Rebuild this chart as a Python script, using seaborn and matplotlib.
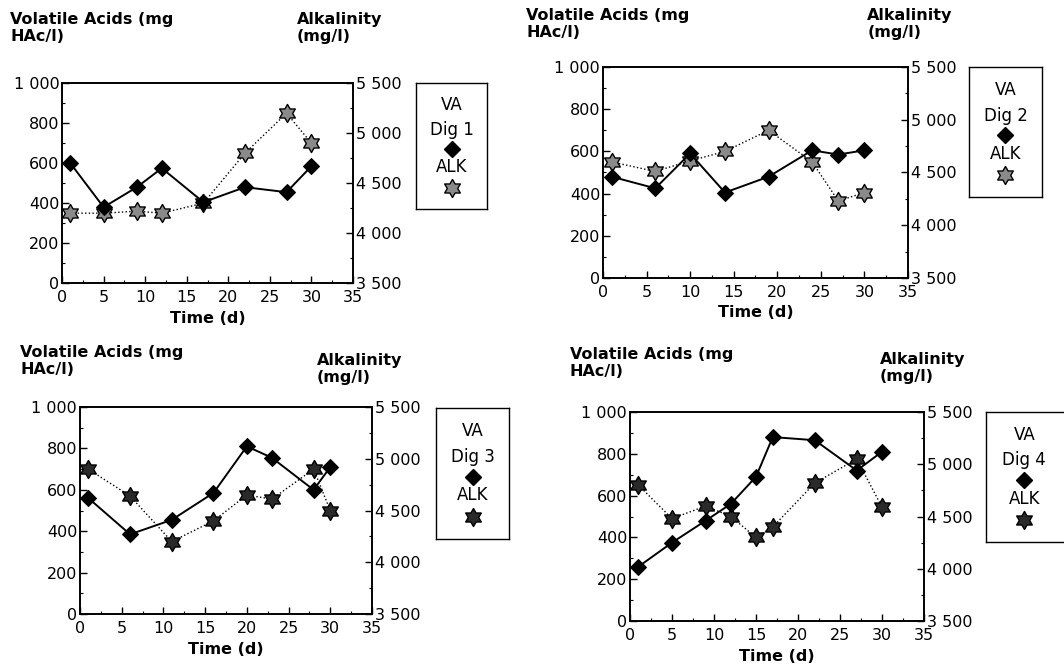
import numpy as np
import matplotlib
matplotlib.use("Agg")
import matplotlib.pyplot as plt
from matplotlib.path import Path
from matplotlib.ticker import FuncFormatter, MultipleLocator
import seaborn as sns

# Dig 1
days_1 = [1, 5, 9, 12, 17, 22, 27, 30]
va_1 = [600, 380, 480, 575, 405, 480, 455, 585]
alk_1 = [4200, 4200, 4220, 4200, 4300, 4800, 5200, 4900]

# Dig 2
days_2 = [1, 6, 10, 14, 19, 24, 27, 30]
va_2 = [480, 425, 590, 405, 480, 605, 585, 605]
alk_2 = [4600, 4510, 4610, 4700, 4900, 4600, 4230, 4310]

# Dig 3
days_3 = [1, 6, 11, 16, 20, 23, 28, 30]
va_3 = [560, 385, 455, 585, 810, 755, 600, 710]
alk_3 = [4900, 4640, 4200, 4400, 4650, 4610, 4900, 4500]

# Dig 4
days_4 = [1, 5, 9, 12, 15, 17, 22, 27, 30]
va_4 = [260, 375, 480, 560, 690, 880, 865, 720, 810]
alk_4 = [4800, 4480, 4600, 4500, 4300, 4400, 4820, 5050, 4590]

digesters = ["Dig 1", "Dig 2", "Dig 3", "Dig 4"]

sns.set_style("ticks")
plt.rcParams['font.family'] = ['DejaVu Sans']
plt.rcParams['text.color'] = 'black'
plt.rcParams['axes.labelcolor'] = 'black'
plt.rcParams['xtick.color'] = 'black'
plt.rcParams['ytick.color'] = 'black'

# six pointed star marker
ang = np.pi / 2 + np.arange(12) * np.pi / 6
rad = np.where(np.arange(12) % 2 == 0, 1.0, 0.577)
star_verts = np.column_stack([rad * np.cos(ang), rad * np.sin(ang)])
star = Path(np.vstack([star_verts, star_verts[:1]]), closed=True)

thousands = FuncFormatter(lambda v, p: f"{int(v):,}".replace(",", " "))

fig = plt.figure(figsize=(10.64, 6.71), dpi=100)

axes_pos = [[0.0583, 0.578, 0.2735, 0.298],
            [0.5667, 0.5857, 0.2867, 0.3145],
            [0.0752, 0.0849, 0.2744, 0.3085],
            [0.5921, 0.0745, 0.2763, 0.3115]]
legend_pos = [[0.391, 0.6885, 0.0667, 0.1878],
              [0.9107, 0.7064, 0.0686, 0.1937],
              [0.4098, 0.1967, 0.0686, 0.1952],
              [0.9267, 0.1923, 0.08, 0.1937]]
va_lab = [(0.0094, 0.982), (0.4944, 0.988), (0.0188, 0.486), (0.5357, 0.483)]
alk_lab = [(0.279, 0.982), (0.815, 0.988), (0.298, 0.474), (0.827, 0.475)]
star_fc = ['#8a8a8a', '#8a8a8a', '#2a2a2a', '#2a2a2a']

data = [(days_1, va_1, alk_1), (days_2, va_2, alk_2),
        (days_3, va_3, alk_3), (days_4, va_4, alk_4)]

for i, (days, va, alk) in enumerate(data):
    ax = fig.add_axes(axes_pos[i])
    ax2 = ax.twinx()
    sns.lineplot(x=days, y=alk, ax=ax2, color='black', lw=1.0, linestyle=':',
                 marker=star, markersize=13, markerfacecolor=star_fc[i],
                 markeredgecolor='black', markeredgewidth=1.0)
    sns.lineplot(x=days, y=va, ax=ax, color='black', lw=1.4,
                 marker='D', markersize=8, markerfacecolor='black',
                 markeredgecolor='black')
    ax.set_zorder(ax2.get_zorder() + 1)
    ax.patch.set_visible(False)

    ax.set_xlim(0, 35)
    ax.set_ylim(0, 1000)
    ax2.set_ylim(3500, 5500)
    ax.xaxis.set_major_locator(MultipleLocator(5))
    ax.xaxis.set_minor_locator(MultipleLocator(2.5))
    ax.yaxis.set_major_locator(MultipleLocator(200))
    ax.yaxis.set_minor_locator(MultipleLocator(100))
    ax2.yaxis.set_major_locator(MultipleLocator(500))
    ax2.yaxis.set_minor_locator(MultipleLocator(250))
    ax.yaxis.set_major_formatter(thousands)
    ax2.yaxis.set_major_formatter(thousands)
    for a in (ax, ax2):
        a.tick_params(which='major', direction='in', length=5, width=1,
                      labelsize=11.5, pad=2)
        a.tick_params(which='minor', direction='in', length=2.5, width=0.8)
        for s in a.spines.values():
            s.set_linewidth(1.2)
            s.set_color('black')
    ax.tick_params(axis='x', which='major', pad=5)
    ax.set_xlabel("Time (d)", fontsize=11.5, fontweight='bold', labelpad=4)
    ax.set_ylabel("")
    ax2.set_ylabel("")

    fig.text(va_lab[i][0], va_lab[i][1], "Volatile Acids (mg\nHAc/l)",
             fontsize=11.5, fontweight='bold', va='top', ha='left',
             linespacing=1.15)
    fig.text(alk_lab[i][0], alk_lab[i][1], "Alkalinity\n(mg/l)",
             fontsize=11.5, fontweight='bold', va='top', ha='left',
             linespacing=1.15)

    # legend box
    lg = fig.add_axes(legend_pos[i])
    lg.set_xlim(0, 1)
    lg.set_ylim(0, 1)
    lg.set_xticks([])
    lg.set_yticks([])
    for s in lg.spines.values():
        s.set_linewidth(1.0)
        s.set_color('black')
    cx = 0.5 if i < 3 else 0.45
    lg.text(cx, 0.825, "VA", ha='center', va='center', fontsize=12)
    lg.text(cx, 0.627, digesters[i], ha='center', va='center', fontsize=12)
    lg.plot([cx], [0.476], marker='D', markersize=8, color='black', ls='none')
    lg.text(cx, 0.333, "ALK", ha='center', va='center', fontsize=12)
    lg.plot([cx], [0.167], marker=star, markersize=13, markerfacecolor=star_fc[i],
            markeredgecolor='black', ls='none')

fig.savefig("out.png", dpi=100)
